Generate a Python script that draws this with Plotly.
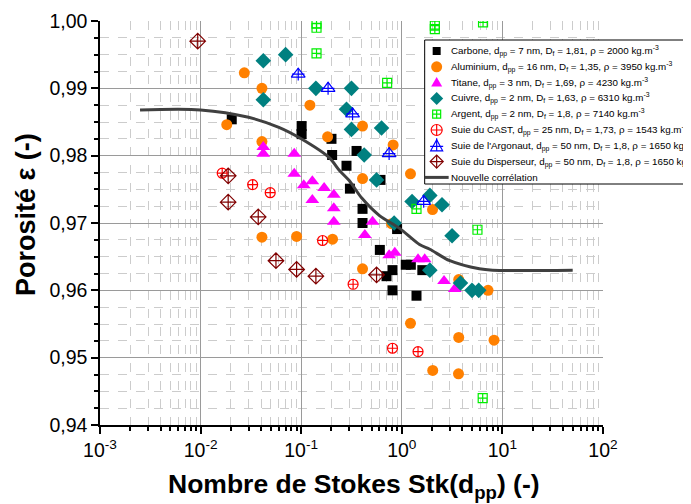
import plotly.graph_objects as go

# ---------------- data ----------------
carb_x = [0.0204, 0.101, 0.101, 0.200, 0.203, 0.355, 0.282, 0.614, 0.305, 0.407, 0.407, 0.898, 0.605, 1.095, 1.23, 0.808, 0.705, 1.60, 0.808, 1.40]
carb_y = [0.9854, 0.9844, 0.9832, 0.9825, 0.9801, 0.9807, 0.9785, 0.9764, 0.9751, 0.9721, 0.9700, 0.9691, 0.9660, 0.9638, 0.9638, 0.9630, 0.9621, 0.9630, 0.9600, 0.9592]

alu_x = [0.0182, 0.0272, 0.0407, 0.0407, 0.0407, 0.090, 0.122, 0.183, 0.205, 0.407, 0.407, 0.407, 0.820, 0.79, 1.22, 2.02, 3.68, 7.2, 1.22, 3.68, 8.26, 2.03, 3.66]
alu_y = [0.9846, 0.9923, 0.9900, 0.9821, 0.9679, 0.9680, 0.9875, 0.9828, 0.9676, 0.9844, 0.9766, 0.9632, 0.9816, 0.9699, 0.9773, 0.9720, 0.9616, 0.9600, 0.9551, 0.9530, 0.9526, 0.9481, 0.9476]

ti_x = [0.042, 0.042, 0.0853, 0.0853, 0.106, 0.129, 0.169, 0.129, 0.211, 0.211, 0.211, 0.512, 0.429, 0.852, 0.748, 1.45, 1.69, 2.63, 3.36]
ti_y = [0.9813, 0.9803, 0.9803, 0.9773, 0.9756, 0.9762, 0.9752, 0.9734, 0.9742, 0.9722, 0.9702, 0.9702, 0.9682, 0.9656, 0.9652, 0.9646, 0.9646, 0.9614, 0.9602]

cu_x = [0.042, 0.070, 0.042, 0.140, 0.316, 0.282, 0.316, 0.629, 0.423, 0.561, 0.839, 1.265, 1.90, 2.51, 3.16, 1.90, 3.83, 4.99, 5.82]
cu_y = [0.9941, 0.9950, 0.9883, 0.9900, 0.9900, 0.9869, 0.9839, 0.9841, 0.9801, 0.9764, 0.9700, 0.9732, 0.9741, 0.9727, 0.9681, 0.9630, 0.9611, 0.9600, 0.9600]

ag_x = [0.142, 0.142, 0.142, 0.715, 1.40, 2.13, 2.13, 6.42, 5.65, 6.37]
ag_y = [0.9996, 0.9990, 0.9952, 0.9908, 0.9721, 0.9993, 0.9988, 0.9998, 0.9690, 0.9440]

cast_x = [0.0164, 0.0329, 0.0492, 0.163, 0.328, 0.808, 1.45]
cast_y = [0.9774, 0.9757, 0.9745, 0.9674, 0.9609, 0.9514, 0.9509]

argo_x = [0.0934, 0.185, 0.324, 0.748, 1.65]
argo_y = [0.9921, 0.9900, 0.9862, 0.9803, 0.9732]

disp_x = [0.00936, 0.0188, 0.0188, 0.0374, 0.0561, 0.090, 0.140, 0.561]
disp_y = [0.9970, 0.9770, 0.9731, 0.9709, 0.9644, 0.9631, 0.9621, 0.9623]

corr_x = [0.0025, 0.01, 0.03, 0.06, 0.1, 0.19, 0.24, 0.3, 0.4, 0.6, 0.95, 1.5, 1.9, 3.0, 5.9, 8.0, 50.0]
corr_y = [0.9868, 0.9868, 0.9857, 0.9842, 0.9825, 0.9797, 0.9778, 0.9763, 0.9737, 0.9711, 0.9692, 0.9668, 0.9661, 0.9644, 0.9632, 0.9630, 0.9630]

x_tickvals = [1e-3, 1e-2, 1e-1, 1e0, 1e1, 1e2]
x_ticktext = ["10<sup>-3</sup>", "10<sup>-2</sup>", "10<sup>-1</sup>", "10<sup>0</sup>", "10<sup>1</sup>", "10<sup>2</sup>"]

x_title = "<b>Nombre de Stokes Stk(d<sub>pp</sub>) (-)</b>"
y_title = "<b>Porosité ε (-)</b>"

names = [
    "Carbone, d<sub>pp</sub> = 7 nm, D<sub>f</sub> = 1,81, ρ = 2000 kg.m<sup>-3</sup>",
    "Aluminium, d<sub>pp</sub> = 16 nm, D<sub>f</sub> = 1,35, ρ = 3950 kg.m<sup>-3</sup>",
    "Titane, d<sub>pp</sub> = 3 nm, D<sub>f</sub> = 1,69, ρ = 4230 kg.m<sup>-3</sup>",
    "Cuivre, d<sub>pp</sub> = 2 nm, D<sub>f</sub> = 1,63, ρ = 6310 kg.m<sup>-3</sup>",
    "Argent, d<sub>pp</sub> = 2 nm, D<sub>f</sub> = 1,8, ρ = 7140 kg.m<sup>-3</sup>",
    "Suie du CAST, d<sub>pp</sub> = 25 nm, D<sub>f</sub> = 1,73, ρ = 1543 kg.m<sup>-3</sup>",
    "Suie de l'Argonaut, d<sub>pp</sub> = 50 nm, D<sub>f</sub> = 1,8, ρ = 1650 kg.m<sup>-3</sup>",
    "Suie du Disperseur, d<sub>pp</sub> = 50 nm, D<sub>f</sub> = 1,8, ρ = 1650 kg.m<sup>-3</sup>",
    "Nouvelle corrélation",
]

# ---------------- styling ----------------
FONT = "Liberation Sans, Arial, sans-serif"
W, H = 691, 504
OFF = 8  # page (body) margin of the HTML document
# desired plot-area edges in screen pixels
P_L, P_R, P_T, P_B = 100, 603.5, 21, 425
ML, MR, MT, MB = P_L - OFF, W - (P_R - OFF), P_T - OFF, H - (P_B - OFF)
PW, PH = P_R - P_L, P_B - P_T

C_CARB, C_ALU, C_TI, C_CU = "#000000", "#FF8000", "#FF00FF", "#008080"
C_AG, C_CAST, C_ARGO, C_DISP, C_CORR = "#00EE00", "#FF0000", "#0000FF", "#800000", "#404040"

fig = go.Figure()


def pts(x, y, name, symbol, color, size, lw=0):
    fig.add_trace(go.Scatter(
        x=x, y=y, mode="markers", name=name, showlegend=False,
        marker=dict(symbol=symbol, color=color, size=size,
                    line=dict(color=color, width=lw)),
    ))


pts(carb_x, carb_y, names[0], "square", C_CARB, 10)
pts(alu_x, alu_y, names[1], "circle", C_ALU, 11)
pts(ti_x, ti_y, names[2], "triangle-up", C_TI, 12)
pts(cu_x, cu_y, names[3], "diamond", C_CU, 12)
pts(ag_x, ag_y, names[4], "square-cross-open", C_AG, 9, 1.2)
pts(cast_x, cast_y, names[5], "circle-cross-open", C_CAST, 10, 1.2)
pts(argo_x, argo_y, names[6], "triangle-up-open", C_ARGO, 12, 1.2)
pts(argo_x, argo_y, names[6], "cross-thin-open", C_ARGO, 9, 1.2)
pts(disp_x, disp_y, names[7], "diamond-cross-open", C_DISP, 12, 1.2)

fig.add_trace(go.Scatter(
    x=corr_x, y=corr_y, mode="lines", name=names[8], showlegend=False,
    line=dict(color=C_CORR, width=3, shape="spline", smoothing=0.8),
))


# ---------------- hand-built legend (compact rows, clipped at right edge) ----------------
def px2x(px):
    return (px - P_L) / PW


def py2y(py):
    return (P_B - py) / PH


shapes = []
annotations = []
LEG_L, LEG_T, LEG_B = 425, 40, 184
shapes.append(dict(type="rect", xref="paper", yref="paper", layer="above",
                   x0=px2x(LEG_L), x1=px2x(W + 30), y0=py2y(LEG_B), y1=py2y(LEG_T),
                   fillcolor="white", line=dict(color="black", width=1)))

ROW0, ROWSTEP, SYM_X, TXT_X = 51, 15.8, 437, 449

sym_specs = [
    [("rect", (-4, 4, -4, 4), C_CARB, True)],
    [("circle", (-5.5, 5.5, -5.5, 5.5), C_ALU, True)],
    [("path", "M-5.5,-4 L5.5,-4 L0,5.5 Z", C_TI, True)],
    [("path", "M0,-6.5 L6.5,0 L0,6.5 L-6.5,0 Z", C_CU, True)],
    [("rect", (-4, 4, -4, 4), C_AG, False), ("path", "M-4,0 L4,0 M0,-4 L0,4", C_AG, False)],
    [("circle", (-5.5, 5.5, -5.5, 5.5), C_CAST, False), ("path", "M-5.5,0 L5.5,0 M0,-5.5 L0,5.5", C_CAST, False)],
    [("path", "M-6,-5 L6,-5 L0,6 Z", C_ARGO, False), ("path", "M0,-5 L0,7.5 M-6.5,-0.5 L6.5,-0.5", C_ARGO, False)],
    [("path", "M0,-6.5 L6.5,0 L0,6.5 L-6.5,0 Z", C_DISP, False), ("path", "M-6.5,0 L6.5,0 M0,-6.5 L0,6.5", C_DISP, False)],
]

for i, name in enumerate(names):
    py = ROW0 + ROWSTEP * i
    if i < len(sym_specs):
        for kind, geom, col, filled in sym_specs[i]:
            base = dict(xref="paper", yref="paper", layer="above",
                        xsizemode="pixel", ysizemode="pixel",
                        xanchor=px2x(SYM_X), yanchor=py2y(py),
                        line=dict(color=col, width=0 if filled else 1.2),
                        fillcolor=col if filled else "rgba(0,0,0,0)")
            if kind == "path":
                base.update(type="path", path=geom)
            else:
                base.update(type=kind, x0=geom[0], x1=geom[1], y0=geom[2], y1=geom[3])
            shapes.append(base)
    else:
        shapes.append(dict(type="line", xref="paper", yref="paper", layer="above",
                           x0=px2x(LEG_L), x1=px2x(TXT_X), y0=py2y(py), y1=py2y(py),
                           line=dict(color=C_CORR, width=3)))
    annotations.append(dict(xref="paper", yref="paper", x=px2x(TXT_X), y=py2y(py),
                            xanchor="left", yanchor="middle", showarrow=False,
                            text=name, font=dict(size=9.8, family=FONT, color="black")))

# axis titles placed as annotations for exact positioning
annotations.append(dict(xref="paper", yref="paper", x=px2x(354), y=py2y(486),
                        xanchor="center", yanchor="middle", showarrow=False,
                        text=x_title, font=dict(size=26.5, family=FONT, color="black")))
annotations.append(dict(xref="paper", yref="paper", x=px2x(26), y=py2y(215),
                        xanchor="center", yanchor="middle", showarrow=False, textangle=-90,
                        text=y_title, font=dict(size=27, family=FONT, color="black")))

minor_x = [m * 10.0 ** e for e in range(-3, 2) for m in range(2, 10)]

fig.update_layout(
    width=W, height=H,
    margin=dict(l=ML, r=MR, t=MT, b=MB, autoexpand=False),
    paper_bgcolor="white", plot_bgcolor="white",
    separators=", ",
    font=dict(family=FONT, color="black"),
    showlegend=False,
    shapes=shapes,
    annotations=annotations,
)

fig.update_xaxes(
    type="log", range=[-3, 2], automargin=False,
    tickvals=x_tickvals, ticktext=x_ticktext,
    tickfont=dict(size=19.5, family=FONT),
    ticks="outside", ticklen=7, tickwidth=1.5, tickcolor="black",
    showline=True, linecolor="black", linewidth=1.5, mirror=False,
    showgrid=True, gridcolor="#9a9a9a", gridwidth=1,
    zeroline=False,
    minor=dict(tickvals=minor_x, ticks="outside", ticklen=4, tickcolor="black",
               showgrid=True, gridcolor="#cccccc", griddash="dash", gridwidth=1),
)

fig.update_yaxes(
    range=[0.94, 1.0], dtick=0.01, tick0=0.94, tickformat=".2f", automargin=False,
    tickfont=dict(size=19.5, family=FONT),
    ticks="outside", ticklen=7, tickwidth=1.5, tickcolor="black",
    showline=True, linecolor="black", linewidth=1.5, mirror=False,
    showgrid=True, gridcolor="#9a9a9a", gridwidth=1,
    zeroline=False,
    minor=dict(dtick=0.0025, tick0=0.94, ticks="outside", ticklen=4, tickcolor="black",
               showgrid=True, gridcolor="#cccccc", griddash="dash", gridwidth=1),
)

fig.write_html("out.html")
